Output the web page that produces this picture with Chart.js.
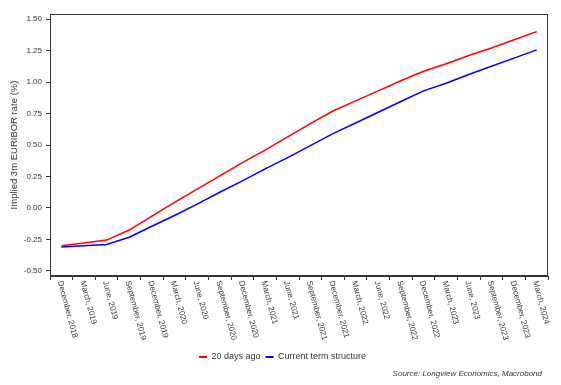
<!DOCTYPE html>
<html>
<head>
<meta charset="utf-8">
<script src="https://cdn.jsdelivr.net/npm/chart.js@4"></script>
<style>
html,body{margin:0;padding:0;background:#fff;}
#wrap{width:561px;height:385px;position:relative;}
</style>
</head>
<body>
<div id="wrap"><canvas id="c" width="561" height="385"></canvas></div>
<script>
const categories = ['December, 2018','March, 2019','June, 2019','September, 2019','December, 2019','March, 2020','June, 2020','September, 2020','December, 2020','March, 2021','June, 2021','September, 2021','December, 2021','March, 2022','June, 2022','September, 2022','December, 2022','March, 2023','June, 2023','September, 2023','December, 2023','March, 2024'];
const twentyDaysAgo = [-0.30,-0.278,-0.255,-0.175,-0.065,0.045,0.15,0.255,0.36,0.46,0.565,0.67,0.77,0.85,0.93,1.01,1.085,1.145,1.21,1.27,1.335,1.40];
const currentTerm = [-0.31,-0.30,-0.29,-0.232,-0.145,-0.06,0.03,0.125,0.215,0.31,0.40,0.495,0.59,0.675,0.76,0.845,0.93,0.99,1.06,1.125,1.19,1.255];
const yTicks = [-0.5,-0.25,0,0.25,0.5,0.75,1.0,1.25,1.5];
const seriesNames = ['20 days ago','Current term structure'];
const seriesColors = ['#ff0000','#0000ff'];
const yTitle = 'Implied 3m EURIBOR rate (%)';
const sourceText = 'Source: Longview Economics, Macrobond';

const ink = '#333333';

const overlay = {
  id: 'overlay',
  afterDraw(chart) {
    const ctx = chart.ctx;
    const a = chart.chartArea;
    ctx.save();
    // frame
    ctx.strokeStyle = ink;
    ctx.lineWidth = 1;
    ctx.strokeRect(Math.round(a.left) + 0.5, Math.round(a.top) + 0.5, Math.round(a.right - a.left) - 1, Math.round(a.bottom - a.top) - 1);
    // rotated x labels
    const xs = chart.scales.x;
    ctx.fillStyle = ink;
    ctx.font = '8px "Liberation Sans", Arial, sans-serif';
    ctx.textAlign = 'left';
    ctx.textBaseline = 'middle';
    categories.forEach((lab, i) => {
      const x = xs.getPixelForValue(i);
      ctx.save();
      ctx.translate(x - 1.5, a.bottom + 5);
      ctx.rotate(75 * Math.PI / 180);
      ctx.fillText(lab, 0, 0);
      ctx.restore();
    });
    // legend
    ctx.font = '9px "Liberation Sans", Arial, sans-serif';
    ctx.textBaseline = 'middle';
    let lx = 199;
    const ly = 357;
    seriesNames.forEach((n, i) => {
      ctx.strokeStyle = seriesColors[i];
      ctx.lineWidth = 2;
      ctx.beginPath();
      ctx.moveTo(lx, ly);
      ctx.lineTo(lx + 8, ly);
      ctx.stroke();
      ctx.fillStyle = ink;
      ctx.fillText(n, lx + 12.5, ly);
      lx += 12.5 + ctx.measureText(n).width + 5;
    });
    // source
    ctx.font = 'italic 8px "Liberation Sans", Arial, sans-serif';
    ctx.textAlign = 'right';
    ctx.fillText(sourceText, 542, 374);
    ctx.restore();
  }
};

new Chart(document.getElementById('c'), {
  type: 'line',
  data: {
    labels: categories,
    datasets: [
      { label: seriesNames[0], data: twentyDaysAgo, borderColor: seriesColors[0], borderWidth: 1.5, pointRadius: 0, tension: 0, fill: false },
      { label: seriesNames[1], data: currentTerm, borderColor: seriesColors[1], borderWidth: 1.5, pointRadius: 0, tension: 0, fill: false }
    ]
  },
  options: {
    responsive: false,
    animation: false,
    devicePixelRatio: 1,
    layout: { padding: { left: 5, right: 13, top: 14, bottom: 0 } },
    plugins: { legend: { display: false }, tooltip: { enabled: false } },
    scales: {
      x: {
        offset: true,
        grid: { offset: true, drawOnChartArea: false, drawTicks: true, tickLength: 4, color: ink },
        border: { display: true, color: ink, width: 1 },
        ticks: { autoSkip: false, maxRotation: 0, callback: () => '' },
        afterFit(scale) { scale.height = 109; }
      },
      y: {
        min: -0.54,
        max: 1.54,
        afterBuildTicks(scale) { scale.ticks = yTicks.map(v => ({ value: v })); },
        grid: { drawOnChartArea: false, drawTicks: true, tickLength: 4, color: ink },
        border: { display: true, color: ink, width: 1 },
        ticks: {
          color: ink,
          padding: 4,
          font: { family: '"Liberation Sans", Arial, sans-serif', size: 8 },
          callback: (v) => Number(v).toFixed(2)
        },
        title: {
          display: true,
          text: yTitle,
          color: ink,
          padding: { top: 4, bottom: 0 },
          font: { family: '"Liberation Sans", Arial, sans-serif', size: 9.5 }
        },
        afterFit(scale) { scale.width = 45; }
      }
    }
  },
  plugins: [overlay]
});
</script>
</body>
</html>
